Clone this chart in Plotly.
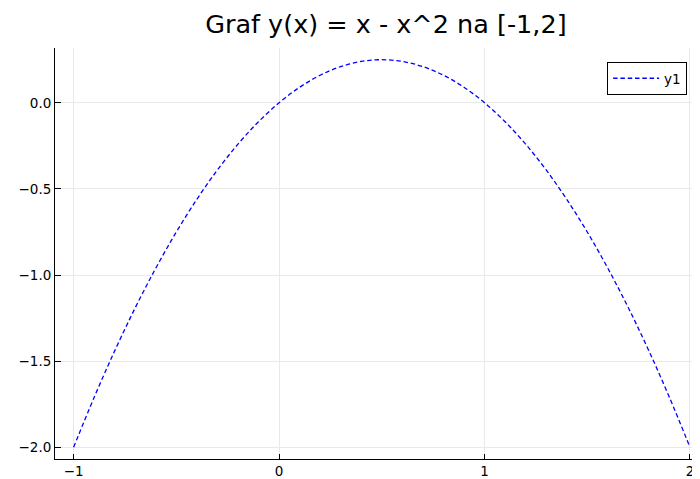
import plotly.graph_objects as go

# points
x_vals = [-1.0, -0.9, -0.8, -0.7, -0.6, -0.5, -0.4, -0.3, -0.2, -0.1,
          0.0, 0.1, 0.2, 0.3, 0.4, 0.5, 0.6, 0.7, 0.8, 0.9,
          1.0, 1.1, 1.2, 1.3, 1.4, 1.5, 1.6, 1.7, 1.8, 1.9, 2.0]
y_vals = [-2.0, -1.71, -1.44, -1.19, -0.96, -0.75, -0.56, -0.39, -0.24, -0.11,
          0.0, 0.09, 0.16, 0.21, 0.24, 0.25, 0.24, 0.21, 0.16, 0.09,
          0.0, -0.11, -0.24, -0.39, -0.56, -0.75, -0.96, -1.19, -1.44, -1.71, -2.0]

x_ticks = [-1, 0, 1, 2]
x_tick_text = ["\u22121", "0", "1", "2"]
y_ticks = [0.0, -0.5, -1.0, -1.5, -2.0]
y_tick_text = ["0.0", "\u22120.5", "\u22121.0", "\u22121.5", "\u22122.0"]

fig = go.Figure()
fig.add_trace(go.Scatter(
    x=x_vals, y=y_vals, mode="lines", name="y1",
    line=dict(color="blue", width=1.3, dash="4.5px,2.8px", shape="spline"),
))

# the page body adds an 8px margin, so the figure is sized to fit the window
fig.update_layout(
    width=692, height=471,
    margin=dict(l=47, r=0, t=40, b=18),
    paper_bgcolor="white", plot_bgcolor="white",
    font=dict(family="DejaVu Sans", size=13.5, color="black"),
    title=dict(text="Graf y(x) = x - x^2 na [-1,2]", x=0.513, xref="paper",
               xanchor="center", y=1 - 16 / 471, yanchor="middle",
               font=dict(size=25.5, color="black")),
    showlegend=True,
    legend=dict(x=0.98, y=0.966, xanchor="right", yanchor="top",
                bordercolor="black", borderwidth=1, bgcolor="white",
                itemwidth=46, font=dict(size=13.5)),
)
fig.update_xaxes(
    range=[-1.0905, 2.0487], tickvals=x_ticks, ticktext=x_tick_text,
    showgrid=True, gridcolor="#e9e9e9", gridwidth=1, zeroline=False,
    showline=True, linecolor="black", linewidth=1,
    ticks="inside", ticklen=5, tickcolor="black",
)
fig.update_yaxes(
    range=[-2.0676, 0.318], tickvals=y_ticks, ticktext=y_tick_text,
    showgrid=True, gridcolor="#e9e9e9", gridwidth=1, zeroline=False,
    showline=True, linecolor="black", linewidth=1,
    ticks="inside", ticklen=6, tickcolor="black",
)

fig.write_html("out.html")
